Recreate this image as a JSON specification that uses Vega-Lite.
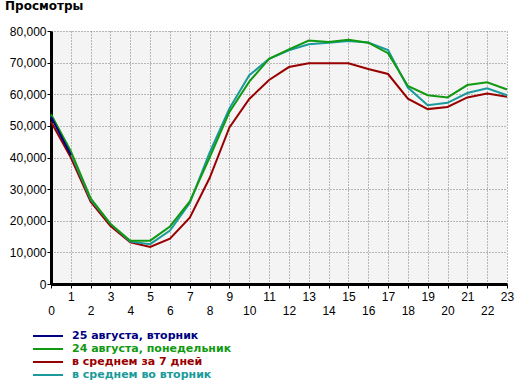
{
  "$schema": "https://vega.github.io/schema/vega-lite/v6.json",
  "width": 456,
  "height": 253,
  "autosize": {"type": "none"},
  "padding": {"left": 51, "top": 31, "right": 11, "bottom": 101},
  "background": "white",
  "title": {"text": "Просмотры", "anchor": "start", "frame": "group", "dx": -46, "offset": 3, "baseline": "alphabetic", "font": "DejaVu Sans", "fontSize": 12, "fontWeight": "bold", "color": "black"},
  "config": {"view": {"fill": "#f4f4f4", "stroke": null}},
  "data": {"values": [
    {"series": "в среднем за 7 дней", "hour": 0, "views": 51300},
    {"series": "в среднем за 7 дней", "hour": 1, "views": 40000},
    {"series": "в среднем за 7 дней", "hour": 2, "views": 26000},
    {"series": "в среднем за 7 дней", "hour": 3, "views": 18300},
    {"series": "в среднем за 7 дней", "hour": 4, "views": 13200},
    {"series": "в среднем за 7 дней", "hour": 5, "views": 11700},
    {"series": "в среднем за 7 дней", "hour": 6, "views": 14300},
    {"series": "в среднем за 7 дней", "hour": 7, "views": 21000},
    {"series": "в среднем за 7 дней", "hour": 8, "views": 33500},
    {"series": "в среднем за 7 дней", "hour": 9, "views": 49500},
    {"series": "в среднем за 7 дней", "hour": 10, "views": 58500},
    {"series": "в среднем за 7 дней", "hour": 11, "views": 64500},
    {"series": "в среднем за 7 дней", "hour": 12, "views": 68600},
    {"series": "в среднем за 7 дней", "hour": 13, "views": 69800},
    {"series": "в среднем за 7 дней", "hour": 14, "views": 69800},
    {"series": "в среднем за 7 дней", "hour": 15, "views": 69800},
    {"series": "в среднем за 7 дней", "hour": 16, "views": 68000},
    {"series": "в среднем за 7 дней", "hour": 17, "views": 66400},
    {"series": "в среднем за 7 дней", "hour": 18, "views": 58600},
    {"series": "в среднем за 7 дней", "hour": 19, "views": 55300},
    {"series": "в среднем за 7 дней", "hour": 20, "views": 56000},
    {"series": "в среднем за 7 дней", "hour": 21, "views": 59000},
    {"series": "в среднем за 7 дней", "hour": 22, "views": 60200},
    {"series": "в среднем за 7 дней", "hour": 23, "views": 59200},
    {"series": "в среднем во вторник", "hour": 0, "views": 53200},
    {"series": "в среднем во вторник", "hour": 1, "views": 41300},
    {"series": "в среднем во вторник", "hour": 2, "views": 26700},
    {"series": "в среднем во вторник", "hour": 3, "views": 19000},
    {"series": "в среднем во вторник", "hour": 4, "views": 13400},
    {"series": "в среднем во вторник", "hour": 5, "views": 12600},
    {"series": "в среднем во вторник", "hour": 6, "views": 16900},
    {"series": "в среднем во вторник", "hour": 7, "views": 25600},
    {"series": "в среднем во вторник", "hour": 8, "views": 41500},
    {"series": "в среднем во вторник", "hour": 9, "views": 55500},
    {"series": "в среднем во вторник", "hour": 10, "views": 66000},
    {"series": "в среднем во вторник", "hour": 11, "views": 71200},
    {"series": "в среднем во вторник", "hour": 12, "views": 73900},
    {"series": "в среднем во вторник", "hour": 13, "views": 75800},
    {"series": "в среднем во вторник", "hour": 14, "views": 76300},
    {"series": "в среднем во вторник", "hour": 15, "views": 76800},
    {"series": "в среднем во вторник", "hour": 16, "views": 76400},
    {"series": "в среднем во вторник", "hour": 17, "views": 74000},
    {"series": "в среднем во вторник", "hour": 18, "views": 62100},
    {"series": "в среднем во вторник", "hour": 19, "views": 56500},
    {"series": "в среднем во вторник", "hour": 20, "views": 57300},
    {"series": "в среднем во вторник", "hour": 21, "views": 60400},
    {"series": "в среднем во вторник", "hour": 22, "views": 61900},
    {"series": "в среднем во вторник", "hour": 23, "views": 59700},
    {"series": "24 августа, понедельник", "hour": 0, "views": 53700},
    {"series": "24 августа, понедельник", "hour": 1, "views": 42000},
    {"series": "24 августа, понедельник", "hour": 2, "views": 27100},
    {"series": "24 августа, понедельник", "hour": 3, "views": 19000},
    {"series": "24 августа, понедельник", "hour": 4, "views": 13700},
    {"series": "24 августа, понедельник", "hour": 5, "views": 13700},
    {"series": "24 августа, понедельник", "hour": 6, "views": 18200},
    {"series": "24 августа, понедельник", "hour": 7, "views": 26100},
    {"series": "24 августа, понедельник", "hour": 8, "views": 40000},
    {"series": "24 августа, понедельник", "hour": 9, "views": 54400},
    {"series": "24 августа, понедельник", "hour": 10, "views": 64000},
    {"series": "24 августа, понедельник", "hour": 11, "views": 71200},
    {"series": "24 августа, понедельник", "hour": 12, "views": 74200},
    {"series": "24 августа, понедельник", "hour": 13, "views": 77000},
    {"series": "24 августа, понедельник", "hour": 14, "views": 76500},
    {"series": "24 августа, понедельник", "hour": 15, "views": 77200},
    {"series": "24 августа, понедельник", "hour": 16, "views": 76300},
    {"series": "24 августа, понедельник", "hour": 17, "views": 73000},
    {"series": "24 августа, понедельник", "hour": 18, "views": 62600},
    {"series": "24 августа, понедельник", "hour": 19, "views": 59700},
    {"series": "24 августа, понедельник", "hour": 20, "views": 59000},
    {"series": "24 августа, понедельник", "hour": 21, "views": 62900},
    {"series": "24 августа, понедельник", "hour": 22, "views": 63800},
    {"series": "24 августа, понедельник", "hour": 23, "views": 61500},
    {"series": "25 августа, вторник", "hour": 0, "views": 52900},
    {"series": "25 августа, вторник", "hour": 1, "views": 40800}
  ]},
  "mark": {"type": "line", "strokeWidth": 2, "interpolate": "linear"},
  "encoding": {
    "x": {
      "field": "hour", "type": "quantitative",
      "scale": {"domain": [0, 23], "nice": false, "zero": false},
      "axis": {
        "title": null,
        "values": [0,1,2,3,4,5,6,7,8,9,10,11,12,13,14,15,16,17,18,19,20,21,22,23],
        "format": "d",
        "tickSize": 4, "tickColor": "black", "tickWidth": 1,
        "domainColor": "black", "domainWidth": 3,
        "labelPadding": {"condition": {"test": "datum.value % 2 == 0", "value": 17}, "value": 3},
        "labelFont": "Liberation Sans", "labelFontSize": 12, "labelColor": "black",
        "labelFlush": false, "labelOverlap": false, "labelBaseline": "top",
        "gridColor": "#7a7a7a", "gridDash": [1, 2], "gridWidth": 1, "gridOpacity": 1
      }
    },
    "y": {
      "field": "views", "type": "quantitative",
      "scale": {"domain": [0, 80000], "nice": false},
      "axis": {
        "title": null,
        "values": [0,10000,20000,30000,40000,50000,60000,70000,80000],
        "format": ",d",
        "tickSize": 4, "tickColor": "black", "tickWidth": 1,
        "domainColor": "black", "domainWidth": 3,
        "labelPadding": 1, "labelFont": "Liberation Sans", "labelFontSize": 12, "labelColor": "black",
        "labelFlush": false, "labelOverlap": false,
        "gridColor": "#7a7a7a", "gridDash": [1, 2], "gridWidth": 1, "gridOpacity": 1
      }
    },
    "color": {
      "field": "series", "type": "nominal",
      "scale": {
        "domain": ["25 августа, вторник", "24 августа, понедельник", "в среднем за 7 дней", "в среднем во вторник"],
        "range": ["#000080", "#119911", "#990000", "#1a9a9a"]
      },
      "legend": {
        "orient": "none", "legendX": -19, "legendY": 298.5,
        "title": null, "padding": 0, "direction": "vertical",
        "symbolType": "stroke", "symbolSize": 900, "symbolStrokeWidth": 2,
        "clipHeight": 13, "rowPadding": 0, "labelOffset": 8,
        "labelFont": "DejaVu Sans", "labelFontSize": 11, "labelFontWeight": "bold",
        "encode": {"labels": {"update": {"fill": {"scale": "color", "field": "value"}}}}
      }
    }
  }
}
